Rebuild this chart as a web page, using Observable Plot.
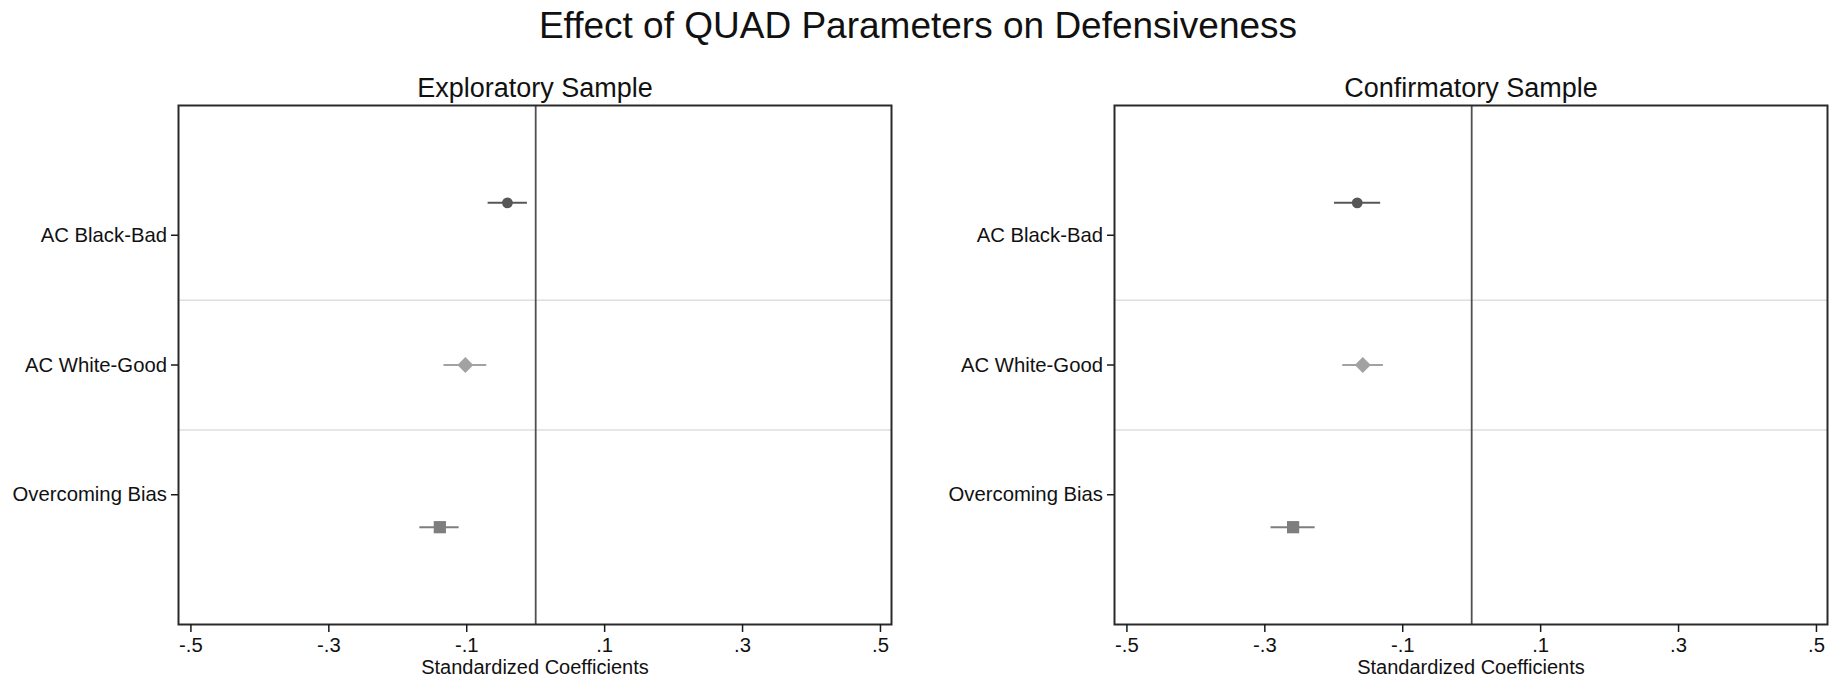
<!DOCTYPE html>
<html>
<head>
<meta charset="utf-8">
<script src="https://cdn.jsdelivr.net/npm/d3@7"></script>
<script src="https://cdn.jsdelivr.net/npm/@observablehq/plot@0.6"></script>
<style>
  html, body { margin: 0; padding: 0; background: #fff; }
  #root { position: relative; width: 1836px; height: 679px; overflow: hidden; font-family: "Liberation Sans", Arial, Helvetica, sans-serif; }
  #title { position: absolute; left: 0; top: 3px; width: 1836px; height: 46px; line-height: 46px; text-align: center; font-size: 37px; color: #111; }
  #left { position: absolute; left: 0; top: 0; }
  #right { position: absolute; left: 918px; top: 0; }
</style>
</head>
<body>
<div id="root">
  <div id="left"></div>
  <div id="right"></div>
  <div id="title">Effect of QUAD Parameters on Defensiveness</div>
</div>
<script>
// ---- data ----
const parameters = ["AC Black-Bad", "AC White-Good", "Overcoming Bias"];
const exploratoryEst = [-0.041, -0.102, -0.139];
const exploratoryLo  = [-0.069, -0.133, -0.168];
const exploratoryHi  = [-0.012, -0.071, -0.111];
const confirmatoryEst = [-0.166, -0.158, -0.259];
const confirmatoryLo  = [-0.199, -0.187, -0.291];
const confirmatoryHi  = [-0.132, -0.128, -0.227];
const xTicks = [-0.5, -0.3, -0.1, 0.1, 0.3, 0.5];
const xTickLabels = ["-.5", "-.3", "-.1", ".1", ".3", ".5"];
const panelTitles = ["Exploratory Sample", "Confirmatory Sample"];
const xAxisTitle = "Standardized Coefficients";

// ---- styles ----
const markStyles = [
  {color: "#575757", symbol: "circle", r: 5.4},
  {color: "#a2a2a2", symbol: "diamond2", r: 7.2},
  {color: "#7e7e7e", symbol: "square", r: 6.9}
];
const font = "Liberation Sans, Arial, Helvetica, sans-serif";

function panel(est, lo, hi, subtitle, marginLeft, marginRight) {
  const rows = parameters.map((p, i) => ({
    param: p, est: est[i], lo: lo[i], hi: hi[i],
    pos: i + 1 + (i - 1) * 0.25
  }));
  const pointMarks = rows.flatMap((r, k) => [
    Plot.ruleY([r], {y: "pos", x1: "lo", x2: "hi", stroke: markStyles[k].color, strokeWidth: 2}),
    Plot.dot([r], {x: "est", y: "pos", symbol: markStyles[k].symbol, r: markStyles[k].r, fill: markStyles[k].color, stroke: "none"})
  ]);
  return Plot.plot({
    width: 918,
    height: 679,
    marginLeft, marginRight,
    marginTop: 105,
    marginBottom: 55,
    style: {fontFamily: font, fontSize: "20.3px", color: "#1a1a1a", background: "#fff", overflow: "visible"},
    x: {domain: [-0.518, 0.516]},
    y: {domain: [0, 4], reverse: true},
    marks: [
      Plot.ruleY([1.5, 2.5], {stroke: "#dedede", strokeWidth: 1.5}),
      Plot.ruleX([0], {stroke: "#505050", strokeWidth: 1.8}),
      ...pointMarks,
      Plot.frame({stroke: "#2a2a2a", strokeWidth: 2}),
      Plot.axisX(xTicks, {tickSize: 8, tickPadding: 5, strokeWidth: 1.5, tickFormat: d => xTickLabels[xTicks.indexOf(d)], label: null, fill: "#111"}),
      Plot.axisY([1, 2, 3], {tickSize: 7, tickPadding: 4.5, strokeWidth: 1.5, tickFormat: d => parameters[d - 1], label: null, fill: "#111"}),
      Plot.text([subtitle], {text: d => d, frameAnchor: "top", lineAnchor: "middle", dy: -17, fontSize: 27, fill: "#111"}),
      Plot.text([xAxisTitle], {text: d => d, frameAnchor: "bottom", lineAnchor: "middle", dy: 43, fontSize: 20, fill: "#111"})
    ]
  });
}

document.getElementById("left").append(panel(exploratoryEst, exploratoryLo, exploratoryHi, panelTitles[0], 178, 27));
document.getElementById("right").append(panel(confirmatoryEst, confirmatoryLo, confirmatoryHi, panelTitles[1], 196, 9));
</script>
</body>
</html>
